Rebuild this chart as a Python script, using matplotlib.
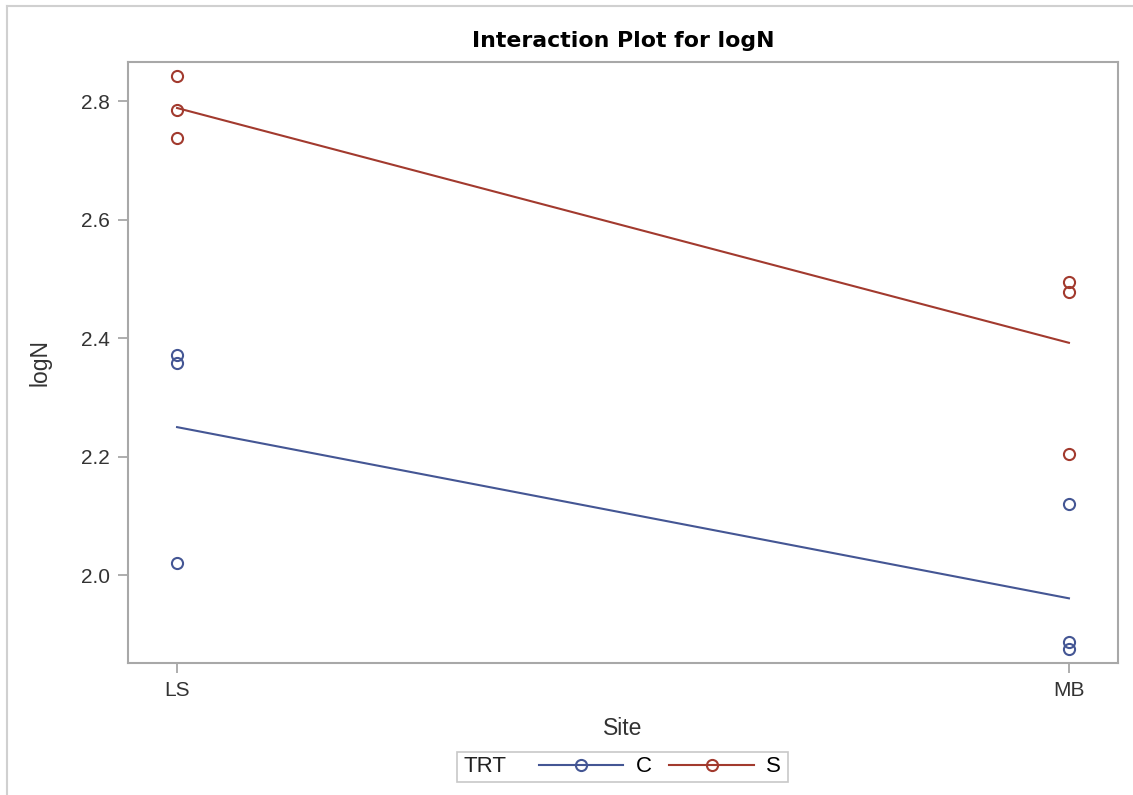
import matplotlib

matplotlib.use("Agg")
import matplotlib.pyplot as plt  # noqa: E402
from matplotlib.lines import Line2D  # noqa: E402
from matplotlib.patches import Rectangle  # noqa: E402

plt.rcParams["font.family"] = ["Liberation Sans", "DejaVu Sans"]

# data
sites = ["LS", "MB"]
trt_levels = ["C", "S"]
obs_c_ls = [2.371, 2.358, 2.020]
obs_c_mb = [2.120, 1.887, 1.875]
obs_s_ls = [2.842, 2.785, 2.738]
obs_s_mb = [2.494, 2.478, 2.204]
y_ticks = [2.0, 2.2, 2.4, 2.6, 2.8]

colors = {"C": "#445694", "S": "#A23A2E"}
observations = {"C": [obs_c_ls, obs_c_mb], "S": [obs_s_ls, obs_s_mb]}

fig = plt.figure(figsize=(11.33, 7.95), dpi=100)
ax = fig.add_axes([128 / 1133, 1 - 663 / 795, (1118 - 128) / 1133, (663 - 62) / 795])

handles = []
for trt in trt_levels:
    col = colors[trt]
    means = []
    for i, vals in enumerate(observations[trt]):
        ax.plot([i] * len(vals), vals, linestyle="none", marker="o", markersize=8,
                markerfacecolor="none", markeredgecolor=col, markeredgewidth=1.5)
        means.append(sum(vals) / len(vals))
    ax.plot(range(len(sites)), means, color=col, linewidth=1.5)
    handles.append(Line2D([], [], color=col, linewidth=1.5, marker="o", markersize=8,
                          markerfacecolor="none", markeredgewidth=1.5))

ax.set_xlim(-0.055, 1.055)
ax.set_ylim(1.8515, 2.866)
ax.set_xticks(range(len(sites)))
ax.set_xticklabels(sites)
ax.set_yticks(y_ticks)
ax.set_yticklabels([f"{v:.1f}" for v in y_ticks])
ax.tick_params(axis="both", direction="out", length=7, width=1.2, color="#A0A0A0",
               labelsize=15, labelcolor="#333333", pad=6)
for sp in ax.spines.values():
    sp.set_color("#A8A8A8")
    sp.set_linewidth(1.5)

ax.set_xlabel("Site", fontsize=16.5, color="#333333", labelpad=12)
ax.set_ylabel("logN", fontsize=16.5, color="#333333", labelpad=21)
ax.set_title("Interaction Plot for logN", fontsize=15.8, fontweight="bold",
             family="DejaVu Sans", pad=11)

# outer frame (left and top edges visible)
fig.add_artist(Line2D([7 / 1133, 7 / 1133], [0, 1 - 6 / 795], transform=fig.transFigure,
                      color="#D0D0D0", linewidth=1.5))
fig.add_artist(Line2D([7 / 1133, 1], [1 - 6 / 795, 1 - 6 / 795], transform=fig.transFigure,
                      color="#D0D0D0", linewidth=1.5))

# legend with inline title
fig.add_artist(Rectangle((457 / 1133, 1 - 782 / 795), (788 - 457) / 1133, 30 / 795,
                         transform=fig.transFigure, facecolor="none", edgecolor="#C8C8C8",
                         linewidth=1.2))
fig.text(463 / 1133, 1 - 767 / 795, "TRT", fontsize=16, va="center", ha="left", color="#222222")
fig.legend(handles, trt_levels, loc="center", bbox_to_anchor=(660 / 1133, 1 - 767 / 795),
           ncol=2, frameon=False, fontsize=16, handlelength=3.8, handletextpad=0.55,
           columnspacing=0.8, borderaxespad=0, borderpad=0)

fig.savefig("out.png", dpi=100)
